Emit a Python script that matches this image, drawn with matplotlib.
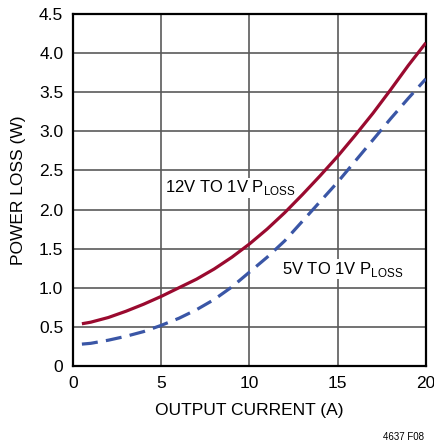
import matplotlib
matplotlib.use("Agg")
import matplotlib.pyplot as plt

# data
current = [0.5, 1, 2, 3, 4, 5, 6, 7, 8, 9, 10, 11, 12, 13, 14, 15, 16, 17, 18, 19, 20]
loss_12v = [0.54, 0.56, 0.62, 0.70, 0.79, 0.89, 1.00, 1.11, 1.24, 1.39, 1.56,
            1.75, 1.96, 2.19, 2.43, 2.68, 2.95, 3.23, 3.53, 3.84, 4.13]
loss_5v = [0.28, 0.29, 0.33, 0.38, 0.44, 0.52, 0.61, 0.72, 0.85, 1.01, 1.20,
           1.39, 1.60, 1.85, 2.10, 2.35, 2.62, 2.89, 3.16, 3.42, 3.67]
xticks = [0, 5, 10, 15, 20]
yticks = [0, 0.5, 1.0, 1.5, 2.0, 2.5, 3.0, 3.5, 4.0, 4.5]
yticklabels = ["0", "0.5", "1.0", "1.5", "2.0", "2.5", "3.0", "3.5", "4.0", "4.5"]

plt.rcParams["font.family"] = ["Liberation Sans", "DejaVu Sans"]
plt.rcParams["mathtext.fontset"] = "custom"
plt.rcParams["mathtext.rm"] = "Liberation Sans"

fig = plt.figure(figsize=(4.35, 4.48), dpi=100)
ax = fig.add_axes([0.168, 0.183, 0.811, 0.786])

ax.plot(current, loss_12v, color="#9a0a2f", lw=2.3, solid_capstyle="butt", zorder=3)
ax.plot(current, loss_5v, color="#3a56a6", lw=2.3, dashes=(5, 2.6), zorder=3)

ax.set_xlim(0, 20)
ax.set_ylim(0, 4.5)
ax.set_xticks(xticks)
ax.set_yticks(yticks)
ax.set_yticklabels(yticklabels)
ax.tick_params(length=0, labelsize=12.5, pad=7)
ax.grid(True, color="#5a5a5a", lw=1.2)
ax.set_axisbelow(True)
for s in ax.spines.values():
    s.set_linewidth(1.6)

ax.set_xlabel("OUTPUT CURRENT (A)", fontsize=12.5, labelpad=9)
ax.set_ylabel("POWER LOSS (W)", fontsize=12.5, labelpad=9)

ax.text(5.2, 2.22, r"12V TO 1V P$_{\mathregular{LOSS}}$", fontsize=12,
        zorder=2, bbox=dict(facecolor="white", edgecolor="none", pad=0.5))
ax.text(11.85, 1.18, r"5V TO 1V P$_{\mathregular{LOSS}}$", fontsize=12,
        zorder=2, bbox=dict(facecolor="white", edgecolor="none", pad=0.5))

fig.text(0.975, 0.013, "4637 F08", fontsize=7, ha="right", va="bottom")

fig.savefig("out.png", dpi=100)
